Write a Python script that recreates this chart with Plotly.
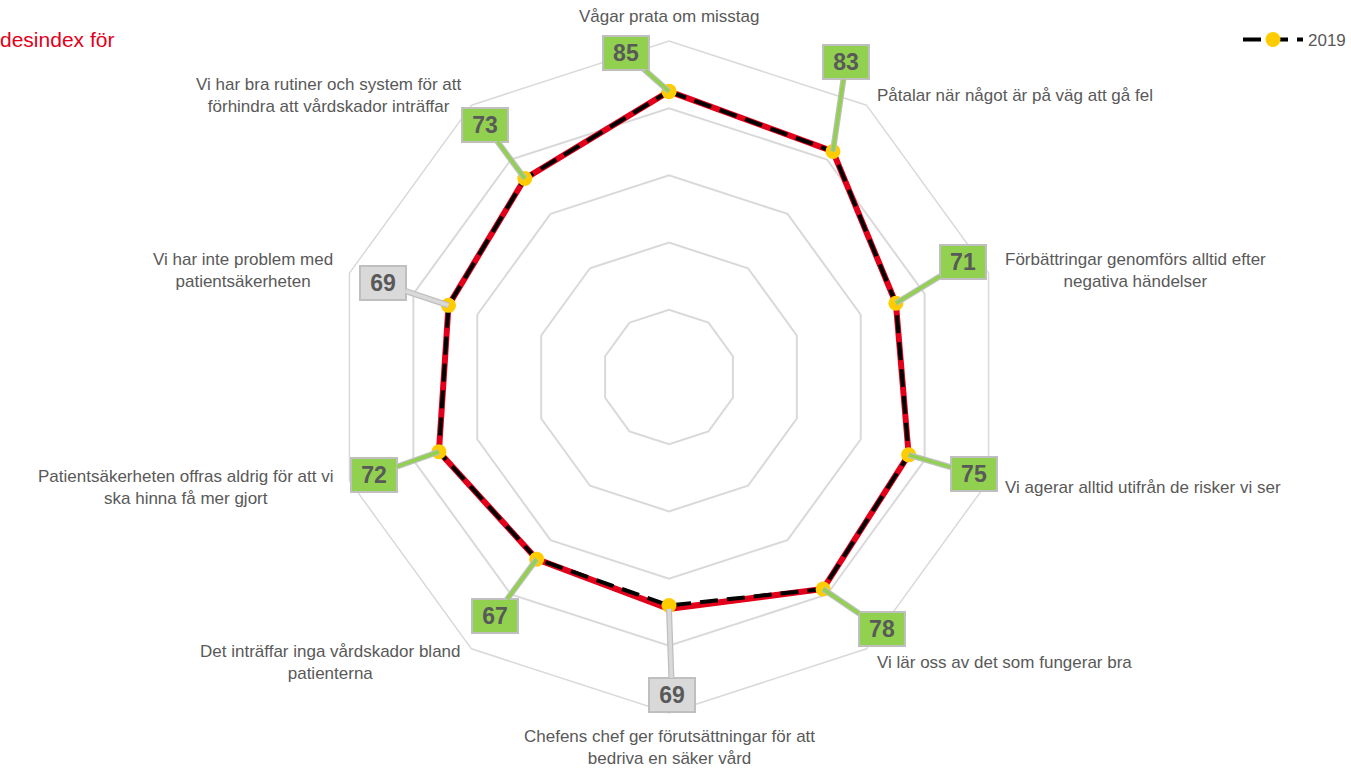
import math
import plotly.graph_objects as go

# Kategorier (axlar) i medurs ordning från toppen
categories = [
    "Vågar prata om misstag",
    "Påtalar när något är på väg att gå fel",
    "Förbättringar genomförs alltid efter<br>negativa händelser",
    "Vi agerar alltid utifrån de risker vi ser",
    "Vi lär oss av det som fungerar bra",
    "Chefens chef ger förutsättningar för att<br>bedriva en säker vård",
    "Det inträffar inga vårdskador bland<br>patienterna",
    "Patientsäkerheten offras aldrig för att vi<br>ska hinna få mer gjort",
    "Vi har inte problem med<br>patientsäkerheten",
    "Vi har bra rutiner och system för att<br>förhindra att vårdskador inträffar",
]
current_values = [85, 83, 71, 75, 78, 69, 67, 72, 69, 73]
values_2019 = [85, 83, 71, 75, 78, 68, 67, 72, 69, 73]
box_status = ["up", "up", "up", "up", "up", "same", "up", "up", "same", "up"]

FONT = "Arial, Liberation Sans, sans-serif"
TEXT_GREY = "#595959"
GRID = "#d9d9d9"

# polar area: centre (669, 377) px, radius ~335 px
W, H = 1351, 768
cx, cy, rad = 669, 377, 336
dom_x = [(cx - rad) / W, (cx + rad) / W]
dom_y = [(H - cy - rad) / H, (H - cy + rad) / H]

theta_closed = categories + [categories[0]]

fig = go.Figure()

fig.add_trace(go.Scatterpolar(
    r=current_values + [current_values[0]], theta=theta_closed,
    mode="lines", line=dict(color="#e2001a", width=6),
    showlegend=False, hoverinfo="skip",
))
fig.add_trace(go.Scatterpolar(
    r=values_2019 + [values_2019[0]], theta=theta_closed,
    mode="lines+markers", name="2019",
    line=dict(color="black", width=4, dash="18px,9px"),
    marker=dict(color="#ffcc00", size=15),
))

# invisible cartesian overlay with the same scale, for annotations
fig.add_trace(go.Scatter(x=[None], y=[None], showlegend=False, hoverinfo="skip"))

fig.update_layout(
    width=W, height=H,
    margin=dict(l=0, r=0, t=0, b=0),
    paper_bgcolor="white", plot_bgcolor="rgba(0,0,0,0)",
    font=dict(family=FONT, color=TEXT_GREY),
    polar=dict(
        domain=dict(x=dom_x, y=dom_y),
        bgcolor="white",
        gridshape="linear",
        angularaxis=dict(
            direction="clockwise", rotation=90,
            showticklabels=False, ticks="", showgrid=False,
            showline=True, linecolor=GRID, linewidth=1.5,
        ),
        radialaxis=dict(
            range=[0, 100], tickvals=[20, 40, 60, 80],
            showticklabels=False, ticks="", showline=False,
            gridcolor=GRID, gridwidth=1.5,
        ),
    ),
    xaxis=dict(domain=dom_x, range=[-100, 100], visible=False, fixedrange=True),
    yaxis=dict(domain=dom_y, range=[-100, 100], visible=False, fixedrange=True),
    legend=dict(
        x=1, xanchor="right", y=1 - 40 / H, yanchor="middle",
        font=dict(size=17, color=TEXT_GREY), itemwidth=60,
        bgcolor="rgba(0,0,0,0)",
    ),
)

annotations = []

# title (cut off at the left edge, as in the original)
annotations.append(dict(
    text="desindex för", xref="paper", yref="paper", x=0, y=1 - 39 / H,
    xanchor="left", yanchor="middle", showarrow=False, xshift=-2,
    font=dict(size=21, color="#e2001a", family=FONT),
))

# category labels
n = len(categories)
for i, cat in enumerate(categories):
    ang = math.radians(90 - i * 360 / n)
    c, s = math.cos(ang), math.sin(ang)
    if c > 0.1:
        xa = "left"
    elif c < -0.1:
        xa = "right"
    else:
        xa = "center"
    if s > 0.9:
        ya = "bottom"
    elif s < -0.9:
        ya = "top"
    else:
        ya = "middle"
    annotations.append(dict(
        text=cat, x=100 * c, y=100 * s, xref="x", yref="y",
        xanchor=xa, yanchor=ya, align="center", showarrow=False,
        xshift=15 * c, yshift=(12 * s if s < -0.9 else 15 * s - 2),
        font=dict(size=17, color=TEXT_GREY, family=FONT),
    ))

# value call-outs (pixel offsets of the boxes from their points)
box_offsets = [(-43, -38), (13, -89), (67, -41), (65, 19), (59, 40),
               (3, 86), (-42, 57), (-65, 23), (-66, -22), (-40, -54)]
for i, v in enumerate(current_values):
    ang = math.radians(90 - i * 360 / n)
    px, py = v * math.cos(ang), v * math.sin(ang)
    fill = "#92d050" if box_status[i] == "up" else "#d9d9d9"
    ax, ay = box_offsets[i]
    # tail outline
    annotations.append(dict(
        text="", x=px, y=py, xref="x", yref="y", showarrow=True,
        ax=ax, ay=ay, arrowhead=0, arrowwidth=6, arrowcolor="#bfbfbf",
        standoff=0,
    ))
    annotations.append(dict(
        text=f"<b>{v}</b>", x=px, y=py,
        xref="x", yref="y", showarrow=True, ax=ax, ay=ay,
        arrowhead=0, arrowwidth=3.5, arrowcolor=fill, standoff=0,
        bgcolor=fill, bordercolor="#bfbfbf", borderwidth=2,
        width=42, height=30, borderpad=1,
        font=dict(size=23, color=TEXT_GREY, family=FONT),
    ))

fig.update_layout(annotations=annotations)

fig.write_html("out.html", config={"displayModeBar": False},
               post_script="document.body.style.margin='0px';")
